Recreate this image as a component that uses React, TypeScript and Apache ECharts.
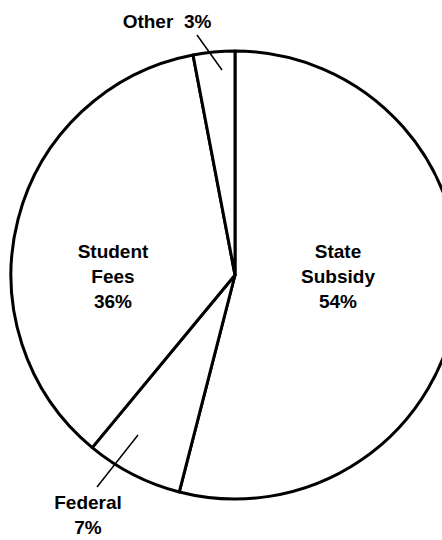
import React, { useEffect, useRef } from "react";
import * as echarts from "echarts";

const categories = ["State Subsidy", "Federal", "Student Fees", "Other"];
const labelNames = ["State\nSubsidy", "Federal", "Student\nFees", "Other"];
const values = [54, 7, 36, 3];

// label placement (layout only)
const labelSpots = [
  { x: 338, y: 276, inside: true },
  { x: 88, y: 515, inside: false },
  { x: 113, y: 276, inside: true },
  { x: 167, y: 21, inside: false },
];
const leaderLines = [
  [138, 435, 97, 487],
  [222, 70, 197, 35],
];

export default function App() {
  const ref = useRef<HTMLDivElement>(null);
  useEffect(() => {
    const chart = echarts.init(ref.current!, null, { renderer: "svg" });
    const textStyle = {
      color: "#000",
      fontFamily: "Liberation Sans",
      fontWeight: "bold" as const,
      fontSize: 19,
      lineHeight: 25,
    };
    chart.setOption({
      animation: false,
      backgroundColor: "#fff",
      graphic: leaderLines.map((l) => ({
        type: "line",
        z: 100,
        silent: true,
        shape: { x1: l[0], y1: l[1], x2: l[2], y2: l[3] },
        style: { stroke: "#000", lineWidth: 1.5 },
      })),
      series: [
        {
          type: "pie",
          center: [235, 275],
          radius: 224,
          startAngle: 90,
          clockwise: true,
          silent: true,
          avoidLabelOverlap: false,
          itemStyle: { color: "#fff", borderColor: "#000", borderWidth: 3 },
          emphasis: { disabled: true },
          labelLine: { show: false },
          data: categories.map((c, i) => ({
            name: c,
            value: values[i],
            label: {
              show: true,
              position: labelSpots[i].inside ? "inside" : "outside",
              formatter: i === 3 ? `${labelNames[i]}  ${values[i]}%` : `${labelNames[i]}\n${values[i]}%`,
              align: "center",
              ...textStyle,
            },
          })),
          labelLayout: (p: any) => {
            const s = labelSpots[p.dataIndex];
            return { x: s.x, y: s.y, align: "center", verticalAlign: "middle" };
          },
        },
      ],
    });
    return () => chart.dispose();
  }, []);
  return (
    <div
      ref={ref}
      style={{ position: "absolute", left: 0, top: 0, width: 442, height: 540 }}
    />
  );
}
